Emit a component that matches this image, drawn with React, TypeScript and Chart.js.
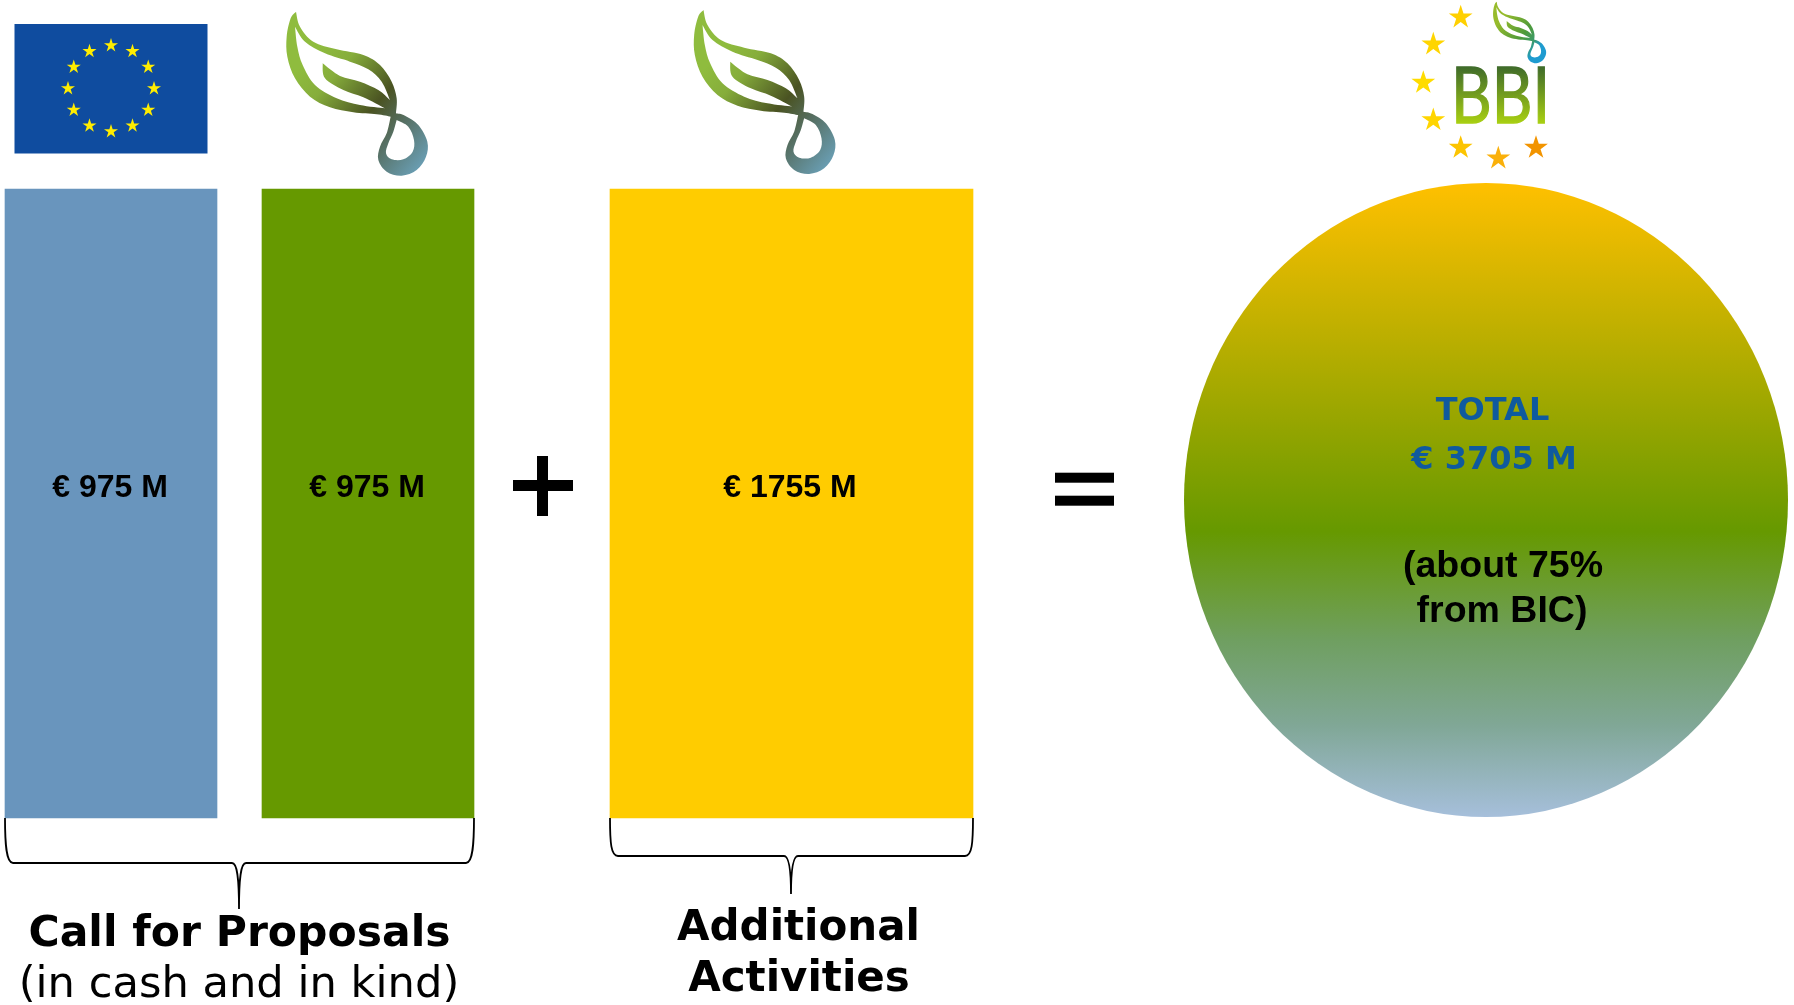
import React, { useEffect, useRef } from "react";
import { Chart, registerables } from "chart.js";

Chart.register(...registerables);

// ---- data ----
const barCategories = ["EU", "BIC", "BIC additional activities"];
const barValuesM = [975, 975, 1755];
const barShares = [1, 1, 1];
const totalValueM = 3705;

// ---- layout (pixels) ----
const W = 1794;
const H = 1005;
const barBottom = 818;
const barTop = 189;
const barSpan = barBottom - barTop;
const barCenters = [111, 368, 791.5];
const barWidths = [212, 212, 363];
const barColors = ["#6995bd", "#669900", "#ffcc00"];
const labelCenters = [110, 367, 790];
const ellipse = { cx: 1486, cy: 500, w: 604, h: 634 };
const FONT = '"DejaVu Sans"';
const ARIAL = '"Liberation Sans"';

type P = [number, number];
function seg(path: Path2D, pts: P[], start: boolean) {
  if (start) path.moveTo(pts[0][0], pts[0][1]);
  for (let i = 0; i < pts.length - 1; i++) {
    const p0 = pts[Math.max(0, i - 1)];
    const p1 = pts[i];
    const p2 = pts[i + 1];
    const p3 = pts[Math.min(pts.length - 1, i + 2)];
    path.bezierCurveTo(
      p1[0] + (p2[0] - p0[0]) / 6,
      p1[1] + (p2[1] - p0[1]) / 6,
      p2[0] - (p3[0] - p1[0]) / 6,
      p2[1] - (p3[1] - p1[1]) / 6,
      p2[0],
      p2[1]
    );
  }
}

function leafPath() {
  const p = new Path2D();
  seg(p, [[888, 35], [900, 80], [940, 125], [1010, 148], [1090, 165], [1140, 195], [1175, 245], [1190, 295], [1188, 340]], true);
  seg(p, [[1188, 340], [1215, 347], [1255, 375], [1282, 425], [1278, 470], [1250, 510], [1205, 527], [1160, 515], [1135, 480], [1140, 440], [1160, 400], [1172, 350]], false);
  seg(p, [[1172, 350], [1130, 343], [1060, 337], [990, 322], [930, 290], [885, 235], [862, 170], [860, 110], [872, 55], [888, 35]], false);
  p.closePath();
  seg(p, [[885, 80], [915, 125], [975, 160], [1050, 185], [1105, 208], [1145, 245], [1170, 300]], true);
  seg(p, [[1170, 300], [1135, 270], [1080, 245], [1020, 228], [968, 190]], false);
  seg(p, [[968, 190], [975, 235], [1030, 270], [1090, 292], [1155, 325]], false);
  seg(p, [[1155, 325], [1080, 315], [1010, 295], [945, 255], [908, 195], [892, 140], [885, 80]], false);
  p.closePath();
  seg(p, [[1190, 360], [1225, 380], [1242, 420], [1238, 455], [1210, 478], [1175, 478], [1158, 460], [1165, 430], [1180, 395], [1190, 360]], true);
  p.closePath();
  return p;
}

function drawLeaf(ctx: CanvasRenderingContext2D, dx: number, dy: number, s: number, stops: [number, string][]) {
  ctx.save();
  ctx.translate(dx, dy);
  ctx.scale(s, s);
  const g = ctx.createLinearGradient(900, 200, 1260, 510);
  stops.forEach(([o, c]) => g.addColorStop(o, c));
  ctx.fillStyle = g;
  ctx.fill(leafPath(), "evenodd");
  ctx.restore();
}

function star(ctx: CanvasRenderingContext2D, cx: number, cy: number, r: number, color: string) {
  ctx.beginPath();
  for (let i = 0; i < 10; i++) {
    const rad = i % 2 === 0 ? r : r * 0.382;
    const a = -Math.PI / 2 + (i * Math.PI) / 5;
    const x = cx + rad * Math.cos(a);
    const y = cy + rad * Math.sin(a);
    if (i === 0) ctx.moveTo(x, y);
    else ctx.lineTo(x, y);
  }
  ctx.closePath();
  ctx.fillStyle = color;
  ctx.fill();
}

function brace(ctx: CanvasRenderingContext2D, x0: number, x1: number, tip: number, y0: number, yh: number, y1: number) {
  ctx.beginPath();
  ctx.moveTo(x0, y0);
  ctx.bezierCurveTo(x0, y0 + 25, x0 + 1, yh, x0 + 8, yh);
  ctx.lineTo(tip - 7, yh);
  ctx.bezierCurveTo(tip - 2, yh, tip, yh + 14, tip, y1);
  ctx.bezierCurveTo(tip, yh + 14, tip + 2, yh, tip + 7, yh);
  ctx.lineTo(x1 - 8, yh);
  ctx.bezierCurveTo(x1 - 1, yh, x1, y0 + 25, x1, y0);
  ctx.strokeStyle = "#000";
  ctx.lineWidth = 1.8;
  ctx.stroke();
}

function text(ctx: CanvasRenderingContext2D, s: string, x: number, y: number, font: string, color = "#000") {
  ctx.font = font;
  ctx.fillStyle = color;
  ctx.textAlign = "center";
  ctx.textBaseline = "alphabetic";
  ctx.fillText(s, x, y);
}

function makeOrb() {
  const c = document.createElement("canvas");
  c.width = ellipse.w;
  c.height = ellipse.h;
  const g = c.getContext("2d")!;
  const grad = g.createLinearGradient(0, 0, 0, ellipse.h);
  grad.addColorStop(0, "#ffc000");
  grad.addColorStop(0.55, "#669900");
  grad.addColorStop(0.72, "#6f9f60");
  grad.addColorStop(0.855, "#80a796");
  grad.addColorStop(1, "#a6bfdb");
  g.fillStyle = grad;
  g.beginPath();
  g.ellipse(ellipse.w / 2, ellipse.h / 2, ellipse.w / 2, ellipse.h / 2, 0, 0, Math.PI * 2);
  g.fill();
  return c;
}

const leafStops: [number, string][] = [[0, "#8fbc3e"], [0.2, "#86ad3b"], [0.52, "#4a5322"], [0.72, "#566f62"], [1, "#6a9fb5"]];
const smallLeafStops: [number, string][] = [[0, "#97bb2c"], [0.45, "#4f9a3a"], [0.65, "#3c9a6a"], [0.8, "#1e9bd0"], [1, "#1e9bd0"]];
const bbiStars: [number, number, string][] = [
  [1460.7, 17.3, "#ffd000"],
  [1433.3, 44.3, "#ffd500"],
  [1423.3, 82.7, "#ffdc00"],
  [1433.3, 120, "#ffd500"],
  [1460.7, 147.7, "#fcc400"],
  [1498.3, 158.3, "#fab00a"],
  [1536, 147.7, "#f29400"],
];

const decorations = {
  id: "decorations",
  afterDatasetsDraw(chart: any) {
    const ctx: CanvasRenderingContext2D = chart.ctx;
    ctx.save();

    // EU flag
    ctx.fillStyle = "#0f4c9f";
    ctx.fillRect(14.5, 24, 193, 129.5);
    for (let i = 0; i < 12; i++) {
      const a = (i * Math.PI) / 6;
      star(ctx, 111 + 43 * Math.sin(a), 88.5 - 43 * Math.cos(a), 7.4, "#ffed00");
    }

    // leaves
    drawLeaf(ctx, 0, 0, 1 / 3, leafStops);
    drawLeaf(ctx, 407.5, -1.7, 1 / 3, leafStops);

    // BBI logo
    bbiStars.forEach(([x, y, c]) => star(ctx, x, y, 12.5, c));
    const s = 0.375 / 3;
    drawLeaf(ctx, 1496.7 - 888 * s, 1.7 - 35 * s, s, smallLeafStops);
    const bg = ctx.createLinearGradient(0, 67, 0, 123);
    bg.addColorStop(0, "#3f6b2a");
    bg.addColorStop(1, "#a8cf12");
    ctx.font = `78px Lato`;
    ctx.fillStyle = bg;
    ctx.strokeStyle = bg;
    ctx.lineWidth = 1.4;
    ctx.textAlign = "left";
    ctx.fillText("BBI", 1451, 123, 99);
    ctx.strokeText("BBI", 1451, 123, 99);

    // value labels
    barValuesM.forEach((v, i) => text(ctx, `€ ${v} M`, labelCenters[i], 497, `bold 32px ${ARIAL}`));

    // operators
    ctx.fillStyle = "#000";
    ctx.fillRect(513, 480, 60, 11);
    ctx.fillRect(537, 456, 11, 60);
    ctx.fillRect(1055, 472.7, 59, 10);
    ctx.fillRect(1055, 495.7, 59, 10);

    // braces
    brace(ctx, 5, 474, 239, barBottom, 863, 909);
    brace(ctx, 610, 973, 791, barBottom, 856, 894);

    // captions
    text(ctx, "Call for Proposals", 239.5, 946, `bold 42.5px ${FONT}`);
    text(ctx, "(in cash and in kind)", 239, 997, `43.2px ${FONT}`);
    text(ctx, "Additional", 798.5, 940, `bold 42px ${FONT}`);
    text(ctx, "Activities", 799, 991, `bold 42px ${FONT}`);

    // total
    text(ctx, "TOTAL", 1492.5, 420, `bold 32px ${FONT}`, "#0f5a9e");
    text(ctx, `€ ${totalValueM} M`, 1494, 469, `bold 32px ${FONT}`, "#0f5a9e");
    text(ctx, "(about 75%", 1503, 577, `bold 37.5px ${ARIAL}`);
    text(ctx, "from BIC)", 1502, 622, `bold 37.5px ${ARIAL}`);
    ctx.restore();
  },
};

export default function App() {
  const ref = useRef<HTMLCanvasElement>(null);
  useEffect(() => {
    const datasets: any[] = barCategories.map((label, i) => ({
      type: "bar",
      label,
      data: [{ x: barCenters[i], y: barShares[i] }],
      backgroundColor: barColors[i],
      barThickness: barWidths[i],
      grouped: false,
      borderWidth: 0,
    }));
    datasets.push({
      type: "scatter",
      label: "Total",
      data: [{ x: ellipse.cx, y: (barBottom - ellipse.cy) / barSpan }],
      pointStyle: makeOrb(),
      pointRadius: 10,
      clip: false,
    });
    const chart = new Chart(ref.current!, {
      data: { datasets },
      options: {
        animation: false,
        responsive: false,
        layout: { padding: 0, autoPadding: false },
        plugins: { legend: { display: false }, tooltip: { enabled: false }, title: { display: false } },
        scales: {
          x: { type: "linear", display: false, min: 0, max: W, offset: false },
          y: { type: "linear", display: false, min: -(H - barBottom) / barSpan, max: barBottom / barSpan },
        },
      },
      plugins: [decorations],
    } as any);
    return () => chart.destroy();
  }, []);
  return (
    <div style={{ position: "absolute", left: 0, top: 0, width: W, height: H, overflow: "hidden", background: "#fff" }}>
      <canvas ref={ref} width={W} height={H} style={{ display: "block" }} />
    </div>
  );
}
